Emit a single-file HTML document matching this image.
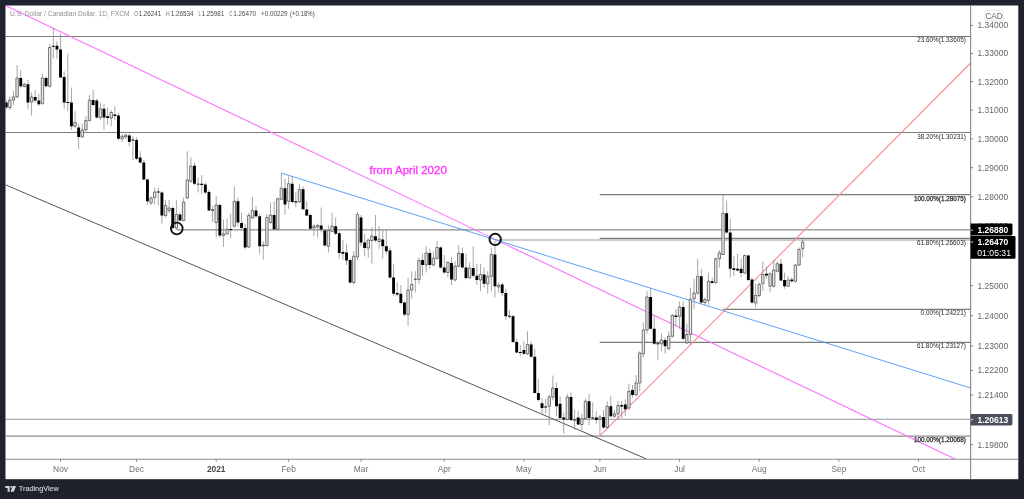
<!DOCTYPE html>
<html><head><meta charset="utf-8"><title>USDCAD</title>
<style>
html,body{margin:0;padding:0;background:#1e222d;}
body{width:1024px;height:499px;overflow:hidden;position:relative;}
svg{position:absolute;left:0;top:0;display:block;will-change:transform}
text{font-family:'Liberation Sans', sans-serif;}
</style></head><body>
<svg width="1024" height="499" viewBox="0 0 1024 499">
<rect x="0" y="0" width="1024" height="499" fill="#1e222d"/>
<rect x="5.5" y="5.5" width="1012.8" height="473.7" fill="#ffffff"/>
<defs><clipPath id="pane"><rect x="5.5" y="5.5" width="965.1" height="453.8"/></clipPath></defs>
<g clip-path="url(#pane)">
<line x1="5.50" y1="36.50" x2="970.60" y2="36.50" stroke="#7c7c7c" stroke-width="1.2"/>
<line x1="5.50" y1="132.50" x2="970.60" y2="132.50" stroke="#7c7c7c" stroke-width="1.2"/>
<line x1="599.70" y1="194.60" x2="970.60" y2="194.60" stroke="#7c7c7c" stroke-width="1.2"/>
<line x1="599.70" y1="238.45" x2="970.60" y2="238.45" stroke="#7c7c7c" stroke-width="1.2"/>
<line x1="722.80" y1="309.30" x2="970.60" y2="309.30" stroke="#7c7c7c" stroke-width="1.2"/>
<line x1="599.70" y1="342.35" x2="970.60" y2="342.35" stroke="#7c7c7c" stroke-width="1.2"/>
<line x1="5.50" y1="436.10" x2="970.60" y2="436.10" stroke="#8a8a8a" stroke-width="1.35"/>
<line x1="177.00" y1="229.80" x2="970.60" y2="229.80" stroke="#8c8c8c" stroke-width="1.2"/>
<line x1="495.00" y1="240.00" x2="970.60" y2="240.00" stroke="#9a9a9a" stroke-width="1.2"/>
<line x1="5.50" y1="419.30" x2="970.60" y2="419.30" stroke="#92949f" stroke-width="1.1"/>
<line x1="5.5" y1="5.5" x2="955.5" y2="459.3" stroke="#ff72ff" stroke-width="1.1"/>
<line x1="281.25" y1="173" x2="970.6" y2="388" stroke="#4a98f5" stroke-width="0.9"/>
<line x1="599.9" y1="435.9" x2="970.6" y2="63" stroke="#f98b8e" stroke-width="1.1"/>
<line x1="5.5" y1="184.8" x2="646.6" y2="459.0" stroke="#4c4c4c" stroke-width="0.95"/>
<path d="M6.25 100.00V108.75M9.87 96.25V110.00M13.49 91.25V105.00M17.11 65.00V97.50M20.73 70.00V87.50M24.35 82.50V87.50M27.97 80.00V108.75M31.59 92.50V115.50M35.21 90.00V102.50M38.83 93.75V106.25M42.45 73.75V104.25M46.07 76.25V87.50M49.69 43.75V87.50M53.31 28.00V58.75M56.93 41.25V58.75M60.55 33.75V78.00M64.17 71.25V108.75M67.79 53.75V111.25M71.41 87.50V130.00M75.03 111.25V127.50M78.65 123.75V149.25M82.27 123.75V137.50M85.89 116.25V131.25M89.51 95.00V121.25M93.13 89.50V106.25M96.75 98.75V118.75M100.37 102.50V120.00M103.99 103.75V130.00M107.61 107.50V125.00M111.23 110.00V126.25M114.85 106.25V120.00M118.47 112.50V140.00M122.09 133.75V142.50M125.71 133.75V138.75M129.33 133.75V146.25M132.95 136.25V160.00M136.57 137.50V160.00M140.19 151.25V163.75M143.81 160.00V180.00M147.43 178.75V205.00M151.05 196.25V205.00M154.67 187.50V204.50M158.29 187.50V205.25M161.91 191.25V223.75M165.53 200.00V217.50M169.15 200.00V213.00M172.77 206.25V229.25M176.39 200.00V230.00M180.01 212.50V221.25M183.63 197.50V221.25M187.25 151.25V198.75M190.87 157.50V182.50M194.49 162.50V185.00M198.11 177.50V192.50M201.73 175.00V193.75M205.35 182.50V193.75M208.97 190.00V211.25M212.59 205.50V222.00M216.21 196.25V237.50M219.83 203.75V237.50M223.45 219.25V247.00M227.07 218.75V235.00M230.69 213.75V238.25M234.31 186.25V227.50M237.93 197.50V226.25M241.55 212.50V230.50M245.17 223.75V248.75M248.79 212.50V248.00M252.41 197.00V218.75M256.03 206.25V218.00M259.65 213.75V253.75M263.27 241.25V259.50M266.89 213.75V247.00M270.51 202.50V223.75M274.13 201.25V230.00M277.75 197.50V230.00M281.37 173.00V200.00M284.99 178.75V215.00M288.61 176.25V208.75M292.23 176.25V203.00M295.85 192.50V207.50M299.47 183.75V203.00M303.09 186.25V210.00M306.71 201.25V216.25M310.33 213.75V230.00M313.95 223.75V236.25M317.57 223.75V237.50M321.19 207.50V232.50M324.81 228.75V246.25M328.43 225.50V252.50M332.05 212.50V232.50M335.67 217.50V235.00M339.29 231.25V258.75M342.91 240.00V260.00M346.53 243.75V265.00M350.15 258.75V283.75M353.77 251.25V284.25M357.39 212.00V260.00M361.01 215.00V246.25M364.63 233.75V256.25M368.25 238.75V257.50M371.87 227.50V263.75M375.49 215.00V242.50M379.11 226.25V248.75M382.73 230.00V258.75M386.35 230.00V253.75M389.97 247.50V278.75M393.59 263.75V296.25M397.21 282.50V296.25M400.83 285.00V304.50M404.45 301.25V316.25M408.07 277.50V326.25M411.69 271.25V298.75M415.31 271.25V292.50M418.93 257.50V283.75M422.55 253.75V276.25M426.17 246.25V272.50M429.79 248.75V268.75M433.41 251.25V266.25M437.03 241.25V260.00M440.65 246.25V268.75M444.27 255.00V273.75M447.89 261.25V277.50M451.51 257.50V285.00M455.13 261.25V281.25M458.75 245.00V267.50M462.37 247.50V268.75M465.99 253.75V279.50M469.61 262.50V278.75M473.23 246.25V277.50M476.85 263.75V285.00M480.47 263.75V291.25M484.09 267.50V287.50M487.71 271.25V293.75M491.33 247.50V291.25M494.95 241.25V297.50M498.57 282.50V292.50M502.19 282.50V296.25M505.81 288.75V320.00M509.43 310.00V318.75M513.05 315.00V343.00M516.67 338.75V353.00M520.29 345.00V356.25M523.91 341.25V355.00M527.53 331.25V355.00M531.15 341.25V357.50M534.77 348.75V393.75M538.39 378.75V401.25M542.01 398.00V413.50M545.63 399.00V413.50M549.25 395.00V425.00M552.87 375.50V400.00M556.49 382.50V416.25M560.11 396.25V418.75M563.73 412.50V433.75M567.35 393.75V420.50M570.97 392.50V421.25M574.59 410.00V430.00M578.21 411.25V425.00M581.83 413.75V430.00M585.45 398.75V420.00M589.07 393.75V425.00M592.69 402.50V420.00M596.31 411.25V423.75M599.93 415.00V435.00M603.55 410.00V428.75M607.17 401.25V428.75M610.79 396.25V417.50M614.41 410.00V417.50M618.03 401.25V420.00M621.65 401.25V418.75M625.27 399.50V416.25M628.89 383.75V410.00M632.51 385.00V397.50M636.13 375.00V396.25M639.75 351.25V391.25M643.37 322.50V357.50M646.99 291.25V333.75M650.61 288.75V330.00M654.23 315.00V345.00M657.85 342.50V360.00M661.47 333.75V351.25M665.09 337.50V353.75M668.71 331.25V350.00M672.33 313.75V337.50M675.95 308.75V326.25M679.57 301.25V328.75M683.19 301.25V340.00M686.81 323.75V343.75M690.43 287.50V345.00M694.05 278.75V308.75M697.67 258.75V295.00M701.29 268.75V303.75M704.91 297.50V305.00M708.53 272.50V305.00M712.15 277.50V283.75M715.77 257.50V283.75M719.39 250.00V267.50M723.01 194.50V255.00M726.63 200.50V233.75M730.25 218.75V277.50M733.87 256.25V276.25M737.49 253.75V271.25M741.11 258.75V277.50M744.73 254.50V273.75M748.35 254.50V281.25M751.97 277.50V303.75M755.59 283.75V307.50M759.21 282.50V297.50M762.83 261.25V291.25M766.45 266.25V278.75M770.07 272.50V292.50M773.69 260.00V287.50M777.31 261.25V272.50M780.93 258.75V281.25M784.55 272.50V288.75M788.17 276.25V287.00M791.79 277.50V282.50M795.41 263.75V282.50M799.03 247.50V266.25M802.65 239.50V257.50" stroke="#8a8a8a" stroke-width="0.75" fill="none"/>
<path d="M8.67 100.00h2.4v7.50h-2.4zM12.29 97.00h2.4v3.00h-2.4zM15.91 78.00h2.4v19.00h-2.4zM23.15 84.25h2.4v2.25h-2.4zM30.39 97.00h2.4v5.00h-2.4zM41.25 78.00h2.4v25.75h-2.4zM48.49 47.50h2.4v38.75h-2.4zM73.83 122.50h2.4v3.75h-2.4zM81.07 130.00h2.4v7.00h-2.4zM84.69 120.50h2.4v9.50h-2.4zM88.31 100.00h2.4v20.50h-2.4zM99.17 108.75h2.4v8.75h-2.4zM110.03 112.50h2.4v5.50h-2.4zM120.89 136.25h2.4v2.50h-2.4zM124.51 135.00h2.4v2.00h-2.4zM149.85 198.00h2.4v5.00h-2.4zM153.47 192.00h2.4v5.50h-2.4zM164.33 205.50h2.4v10.00h-2.4zM167.95 208.00h2.4v2.50h-2.4zM175.19 214.50h2.4v13.50h-2.4zM182.43 202.00h2.4v18.50h-2.4zM186.05 180.00h2.4v18.00h-2.4zM189.67 166.25h2.4v15.00h-2.4zM215.01 205.00h2.4v17.50h-2.4zM222.25 233.75h2.4v1.75h-2.4zM225.87 229.25h2.4v4.50h-2.4zM233.11 201.25h2.4v25.00h-2.4zM247.59 215.50h2.4v31.50h-2.4zM251.21 210.50h2.4v7.50h-2.4zM262.07 245.00h2.4v1.00h-2.4zM265.69 217.50h2.4v28.00h-2.4zM269.31 215.00h2.4v7.50h-2.4zM276.55 198.75h2.4v30.50h-2.4zM280.17 188.25h2.4v11.00h-2.4zM287.41 183.75h2.4v17.50h-2.4zM298.27 189.25h2.4v12.50h-2.4zM312.75 226.25h2.4v1.75h-2.4zM316.37 225.50h2.4v1.50h-2.4zM327.23 230.50h2.4v15.75h-2.4zM330.85 226.25h2.4v5.00h-2.4zM352.57 256.25h2.4v26.25h-2.4zM356.19 214.50h2.4v42.50h-2.4zM367.05 240.00h2.4v8.00h-2.4zM370.67 236.00h2.4v4.50h-2.4zM377.91 239.00h2.4v2.50h-2.4zM406.87 290.00h2.4v24.50h-2.4zM410.49 284.50h2.4v5.50h-2.4zM417.73 260.50h2.4v19.00h-2.4zM424.97 253.00h2.4v12.00h-2.4zM432.21 258.25h2.4v6.75h-2.4zM435.83 247.50h2.4v10.75h-2.4zM446.69 262.50h2.4v10.00h-2.4zM453.93 266.25h2.4v13.75h-2.4zM457.55 253.25h2.4v13.00h-2.4zM468.41 268.00h2.4v10.00h-2.4zM479.27 274.50h2.4v5.50h-2.4zM486.51 276.25h2.4v7.50h-2.4zM490.13 254.50h2.4v21.75h-2.4zM497.37 285.00h2.4v2.00h-2.4zM526.33 344.50h2.4v9.25h-2.4zM548.05 397.00h2.4v9.25h-2.4zM551.67 388.00h2.4v9.00h-2.4zM566.15 397.00h2.4v22.50h-2.4zM573.39 419.50h2.4v1.00h-2.4zM580.63 418.75h2.4v5.75h-2.4zM584.25 401.25h2.4v17.50h-2.4zM598.73 417.00h2.4v2.50h-2.4zM605.97 406.25h2.4v21.25h-2.4zM613.21 413.75h2.4v2.50h-2.4zM616.83 405.50h2.4v8.25h-2.4zM627.69 391.25h2.4v16.75h-2.4zM634.93 383.00h2.4v12.00h-2.4zM638.55 353.00h2.4v30.00h-2.4zM642.17 330.00h2.4v23.75h-2.4zM645.79 297.00h2.4v33.00h-2.4zM660.27 340.00h2.4v3.75h-2.4zM667.51 336.25h2.4v12.50h-2.4zM671.13 315.50h2.4v20.75h-2.4zM678.37 307.00h2.4v9.25h-2.4zM685.61 334.50h2.4v8.50h-2.4zM689.23 299.50h2.4v35.00h-2.4zM692.85 293.00h2.4v5.75h-2.4zM696.47 276.25h2.4v16.75h-2.4zM703.71 299.50h2.4v3.00h-2.4zM707.33 281.25h2.4v19.25h-2.4zM714.57 258.75h2.4v23.75h-2.4zM718.19 253.00h2.4v5.75h-2.4zM721.81 213.25h2.4v41.25h-2.4zM743.53 255.50h2.4v17.50h-2.4zM754.39 295.50h2.4v7.50h-2.4zM758.01 284.50h2.4v11.00h-2.4zM761.63 274.50h2.4v9.25h-2.4zM768.87 273.75h2.4v12.50h-2.4zM772.49 270.00h2.4v16.25h-2.4zM776.11 263.75h2.4v7.50h-2.4zM786.97 280.00h2.4v6.25h-2.4zM794.21 265.00h2.4v16.25h-2.4zM797.83 249.50h2.4v15.50h-2.4zM801.45 242.00h2.4v6.75h-2.4z" stroke="#444" stroke-width="0.7" fill="#e8e8e8"/>
<path d="M4.80 102.50h2.9v5.00h-2.9zM19.28 78.00h2.9v8.25h-2.9zM26.52 84.25h2.9v18.25h-2.9zM33.76 97.00h2.9v3.50h-2.9zM37.38 100.50h2.9v3.75h-2.9zM44.62 78.00h2.9v8.25h-2.9zM51.86 45.75h2.9v1.00h-2.9zM55.48 45.75h2.9v3.75h-2.9zM59.10 49.50h2.9v28.00h-2.9zM62.72 77.00h2.9v25.50h-2.9zM66.34 102.00h2.9v1.00h-2.9zM69.96 102.50h2.9v23.75h-2.9zM77.20 127.50h2.9v9.50h-2.9zM91.68 100.00h2.9v5.00h-2.9zM95.30 100.50h2.9v17.00h-2.9zM102.54 108.75h2.9v8.75h-2.9zM106.16 116.25h2.9v1.75h-2.9zM113.40 114.50h2.9v1.50h-2.9zM117.02 115.50h2.9v23.25h-2.9zM127.88 135.50h2.9v6.50h-2.9zM131.50 139.50h2.9v1.00h-2.9zM135.12 140.00h2.9v18.75h-2.9zM138.74 157.50h2.9v5.00h-2.9zM142.36 162.50h2.9v17.00h-2.9zM145.98 179.50h2.9v21.75h-2.9zM156.84 191.50h2.9v1.00h-2.9zM160.46 192.50h2.9v23.00h-2.9zM171.32 208.00h2.9v20.00h-2.9zM178.56 214.50h2.9v6.00h-2.9zM193.04 165.75h2.9v18.00h-2.9zM196.66 183.75h2.9v0.80h-2.9zM200.28 183.75h2.9v1.25h-2.9zM203.90 184.50h2.9v8.00h-2.9zM207.52 192.00h2.9v18.50h-2.9zM211.14 209.50h2.9v1.00h-2.9zM218.38 205.00h2.9v30.50h-2.9zM229.24 229.00h2.9v1.00h-2.9zM236.48 201.25h2.9v21.25h-2.9zM240.10 223.00h2.9v5.00h-2.9zM243.72 228.00h2.9v19.50h-2.9zM254.58 210.50h2.9v5.75h-2.9zM258.20 216.25h2.9v30.00h-2.9zM272.68 215.00h2.9v14.25h-2.9zM283.54 188.25h2.9v16.25h-2.9zM290.78 183.75h2.9v18.25h-2.9zM294.40 201.25h2.9v1.25h-2.9zM301.64 189.25h2.9v20.00h-2.9zM305.26 209.50h2.9v6.00h-2.9zM308.88 215.00h2.9v13.75h-2.9zM319.74 225.50h2.9v4.00h-2.9zM323.36 230.50h2.9v15.00h-2.9zM334.22 226.25h2.9v7.50h-2.9zM337.84 233.25h2.9v19.75h-2.9zM341.46 252.00h2.9v1.75h-2.9zM345.08 252.50h2.9v8.00h-2.9zM348.70 260.00h2.9v22.50h-2.9zM359.56 217.50h2.9v25.00h-2.9zM363.18 242.50h2.9v5.50h-2.9zM374.04 236.25h2.9v4.25h-2.9zM381.28 239.50h2.9v6.75h-2.9zM384.90 246.25h2.9v5.00h-2.9zM388.52 250.50h2.9v27.00h-2.9zM392.14 277.50h2.9v16.25h-2.9zM395.76 293.00h2.9v1.50h-2.9zM399.38 293.75h2.9v9.25h-2.9zM403.00 302.50h2.9v12.00h-2.9zM413.86 278.75h2.9v0.80h-2.9zM421.10 260.00h2.9v5.00h-2.9zM428.34 253.00h2.9v12.00h-2.9zM439.20 247.50h2.9v20.00h-2.9zM442.82 267.50h2.9v5.00h-2.9zM450.06 263.00h2.9v16.50h-2.9zM460.92 253.25h2.9v14.25h-2.9zM464.54 267.50h2.9v10.50h-2.9zM471.78 268.00h2.9v7.75h-2.9zM475.40 275.75h2.9v4.25h-2.9zM482.64 274.50h2.9v9.25h-2.9zM493.50 254.50h2.9v31.75h-2.9zM500.74 284.50h2.9v8.50h-2.9zM504.36 293.00h2.9v23.25h-2.9zM507.98 315.75h2.9v1.00h-2.9zM511.60 316.25h2.9v25.75h-2.9zM515.22 342.00h2.9v10.50h-2.9zM518.84 352.00h2.9v1.00h-2.9zM522.46 350.00h2.9v3.75h-2.9zM529.70 344.50h2.9v12.25h-2.9zM533.32 356.75h2.9v36.25h-2.9zM536.94 393.00h2.9v7.00h-2.9zM540.56 403.25h2.9v4.75h-2.9zM544.18 406.50h2.9v1.00h-2.9zM555.04 388.00h2.9v18.25h-2.9zM558.66 403.75h2.9v14.25h-2.9zM562.28 417.50h2.9v2.00h-2.9zM569.52 397.00h2.9v23.00h-2.9zM576.76 417.50h2.9v7.00h-2.9zM587.62 401.25h2.9v16.75h-2.9zM591.24 417.50h2.9v1.00h-2.9zM594.86 417.50h2.9v2.50h-2.9zM602.10 417.00h2.9v10.50h-2.9zM609.34 406.25h2.9v10.00h-2.9zM620.20 405.00h2.9v1.50h-2.9zM623.82 404.50h2.9v4.75h-2.9zM631.06 390.00h2.9v5.00h-2.9zM649.16 297.00h2.9v31.75h-2.9zM652.78 328.75h2.9v15.00h-2.9zM656.40 343.25h2.9v1.00h-2.9zM663.64 340.00h2.9v6.25h-2.9zM674.50 315.50h2.9v1.50h-2.9zM681.74 307.00h2.9v31.75h-2.9zM699.84 276.25h2.9v26.25h-2.9zM710.70 281.25h2.9v1.75h-2.9zM725.18 213.25h2.9v19.25h-2.9zM728.80 232.50h2.9v36.25h-2.9zM732.42 268.25h2.9v1.75h-2.9zM736.04 268.75h2.9v1.75h-2.9zM739.66 268.75h2.9v4.25h-2.9zM746.90 255.50h2.9v24.50h-2.9zM750.52 279.50h2.9v23.00h-2.9zM765.00 273.75h2.9v1.75h-2.9zM779.48 263.75h2.9v16.75h-2.9zM783.10 280.00h2.9v6.25h-2.9zM790.34 279.50h2.9v1.75h-2.9z" fill="#000"/>
<circle cx="176.8" cy="228.5" r="5.85" fill="none" stroke="#111" stroke-width="1.9"/>
<circle cx="495.2" cy="239.4" r="5.7" fill="none" stroke="#111" stroke-width="1.9"/>
<text x="369.5" y="173.8" font-size="11" fill="#ff33ff" stroke="#ff33ff" stroke-width="0.3" textLength="77.3" lengthAdjust="spacingAndGlyphs">from April 2020</text>
<text x="917.3" y="42.25" font-size="6.8" fill="#262626" textLength="48.5" lengthAdjust="spacingAndGlyphs">23.60%(1.33605)</text>
<text x="917.3" y="138.95" font-size="6.8" fill="#262626" textLength="48.5" lengthAdjust="spacingAndGlyphs">38.20%(1.30231)</text>
<text stroke="#262626" stroke-width="0.25" x="914.0" y="200.75" font-size="6.8" fill="#262626" textLength="51.8" lengthAdjust="spacingAndGlyphs">100.00%(1.28075)</text>
<text x="917.0" y="244.55" font-size="6.8" fill="#262626" textLength="48.8" lengthAdjust="spacingAndGlyphs">61.80%(1.26603)</text>
<text x="920.6" y="315.45" font-size="6.8" fill="#262626" textLength="45.2" lengthAdjust="spacingAndGlyphs">0.00%(1.24221)</text>
<text x="917.0" y="348.45" font-size="6.8" fill="#262626" textLength="48.8" lengthAdjust="spacingAndGlyphs">61.80%(1.23127)</text>
<text stroke="#262626" stroke-width="0.25" x="914.0" y="441.75" font-size="6.8" fill="#262626" textLength="51.8" lengthAdjust="spacingAndGlyphs">100.00%(1.20068)</text>
</g>
<text x="10.0" y="16.2" font-size="6.8" fill="#909090" textLength="119.6" lengthAdjust="spacingAndGlyphs">U.S. Dollar / Canadian Dollar, 1D, FXCM</text>
<text x="134.3" y="16.2" font-size="6.8" fill="#6c6c6c" textLength="3.7" lengthAdjust="spacingAndGlyphs">O</text>
<text x="138.7" y="16.2" font-size="6.8" fill="#4a4a4a" textLength="22.4" lengthAdjust="spacingAndGlyphs">1.26241</text>
<text x="166.0" y="16.2" font-size="6.8" fill="#6c6c6c" textLength="3.7" lengthAdjust="spacingAndGlyphs">H</text>
<text x="170.7" y="16.2" font-size="6.8" fill="#4a4a4a" textLength="22.9" lengthAdjust="spacingAndGlyphs">1.26534</text>
<text x="198.4" y="16.2" font-size="6.8" fill="#6c6c6c" textLength="2.4" lengthAdjust="spacingAndGlyphs">L</text>
<text x="201.7" y="16.2" font-size="6.8" fill="#4a4a4a" textLength="22.4" lengthAdjust="spacingAndGlyphs">1.25981</text>
<text x="229.3" y="16.2" font-size="6.8" fill="#6c6c6c" textLength="3.2" lengthAdjust="spacingAndGlyphs">C</text>
<text x="233.2" y="16.2" font-size="6.8" fill="#4a4a4a" textLength="22.9" lengthAdjust="spacingAndGlyphs">1.26470</text>
<text x="261.0" y="16.2" font-size="6.8" fill="#4a4a4a" textLength="26.4" lengthAdjust="spacingAndGlyphs">+0.00229</text>
<text x="290.1" y="16.2" font-size="6.8" fill="#4a4a4a" textLength="24.6" lengthAdjust="spacingAndGlyphs">(+0.18%)</text>
<line x1="970.6" y1="5.5" x2="970.6" y2="479.2" stroke="#858585" stroke-width="1.1"/>
<line x1="5.5" y1="459.3" x2="1018.3" y2="459.3" stroke="#8a8a8a" stroke-width="1.1"/>
<line x1="970.6" y1="25.36" x2="973.2" y2="25.36" stroke="#6a6a6a" stroke-width="0.8"/>
<text x="977.5" y="28.36" font-size="8.4" fill="#666" textLength="30.6" lengthAdjust="spacingAndGlyphs">1.34000</text>
<line x1="970.6" y1="53.40" x2="973.2" y2="53.40" stroke="#6a6a6a" stroke-width="0.8"/>
<text x="977.5" y="56.40" font-size="8.4" fill="#666" textLength="30.6" lengthAdjust="spacingAndGlyphs">1.33000</text>
<line x1="970.6" y1="81.65" x2="973.2" y2="81.65" stroke="#6a6a6a" stroke-width="0.8"/>
<text x="977.5" y="84.65" font-size="8.4" fill="#666" textLength="30.6" lengthAdjust="spacingAndGlyphs">1.32000</text>
<line x1="970.6" y1="110.12" x2="973.2" y2="110.12" stroke="#6a6a6a" stroke-width="0.8"/>
<text x="977.5" y="113.12" font-size="8.4" fill="#666" textLength="30.6" lengthAdjust="spacingAndGlyphs">1.31000</text>
<line x1="970.6" y1="138.81" x2="973.2" y2="138.81" stroke="#6a6a6a" stroke-width="0.8"/>
<text x="977.5" y="141.81" font-size="8.4" fill="#666" textLength="30.6" lengthAdjust="spacingAndGlyphs">1.30000</text>
<line x1="970.6" y1="167.71" x2="973.2" y2="167.71" stroke="#6a6a6a" stroke-width="0.8"/>
<text x="977.5" y="170.71" font-size="8.4" fill="#666" textLength="30.6" lengthAdjust="spacingAndGlyphs">1.29000</text>
<line x1="970.6" y1="196.84" x2="973.2" y2="196.84" stroke="#6a6a6a" stroke-width="0.8"/>
<text x="977.5" y="199.84" font-size="8.4" fill="#666" textLength="30.6" lengthAdjust="spacingAndGlyphs">1.28000</text>
<line x1="970.6" y1="226.20" x2="973.2" y2="226.20" stroke="#6a6a6a" stroke-width="0.8"/>
<text x="977.5" y="229.20" font-size="8.4" fill="#666" textLength="30.6" lengthAdjust="spacingAndGlyphs">1.27000</text>
<line x1="970.6" y1="285.62" x2="973.2" y2="285.62" stroke="#6a6a6a" stroke-width="0.8"/>
<text x="977.5" y="288.62" font-size="8.4" fill="#666" textLength="30.6" lengthAdjust="spacingAndGlyphs">1.25000</text>
<line x1="970.6" y1="315.69" x2="973.2" y2="315.69" stroke="#6a6a6a" stroke-width="0.8"/>
<text x="977.5" y="318.69" font-size="8.4" fill="#666" textLength="30.6" lengthAdjust="spacingAndGlyphs">1.24000</text>
<line x1="970.6" y1="346.00" x2="973.2" y2="346.00" stroke="#6a6a6a" stroke-width="0.8"/>
<text x="977.5" y="349.00" font-size="8.4" fill="#666" textLength="30.6" lengthAdjust="spacingAndGlyphs">1.23000</text>
<line x1="970.6" y1="370.43" x2="973.2" y2="370.43" stroke="#6a6a6a" stroke-width="0.8"/>
<text x="977.5" y="373.43" font-size="8.4" fill="#666" textLength="30.6" lengthAdjust="spacingAndGlyphs">1.22200</text>
<line x1="970.6" y1="395.02" x2="973.2" y2="395.02" stroke="#6a6a6a" stroke-width="0.8"/>
<text x="977.5" y="398.02" font-size="8.4" fill="#666" textLength="30.6" lengthAdjust="spacingAndGlyphs">1.21400</text>
<line x1="970.6" y1="444.68" x2="973.2" y2="444.68" stroke="#6a6a6a" stroke-width="0.8"/>
<text x="977.5" y="447.68" font-size="8.4" fill="#666" textLength="30.6" lengthAdjust="spacingAndGlyphs">1.19800</text>
<path d="M970.6 223.5H1011.1Q1012.5 223.5 1012.5 224.9V234.0Q1012.5 235.4 1011.1 235.4H970.6Z" fill="#000"/>
<path d="M970.6 236.1H1014.1Q1015.5 236.1 1015.5 237.5V257.40000000000003Q1015.5 258.8 1014.1 258.8H970.6Z" fill="#000"/>
<path d="M970.6 413.9H1011.0Q1012.4 413.9 1012.4 415.29999999999995V424.1Q1012.4 425.5 1011.0 425.5H970.6Z" fill="#4c4f5b"/>
<line x1="970.6" y1="230.20" x2="973.2" y2="230.20" stroke="#fff" stroke-width="0.8"/>
<text x="977.5" y="233.20" font-size="8.4" fill="#fff" font-weight="bold" textLength="30.8" lengthAdjust="spacingAndGlyphs">1.26880</text>
<line x1="970.6" y1="242.00" x2="973.2" y2="242.00" stroke="#fff" stroke-width="0.8"/>
<text x="977.5" y="245.00" font-size="8.4" fill="#fff" font-weight="bold" textLength="30.8" lengthAdjust="spacingAndGlyphs">1.26470</text>
<line x1="970.6" y1="419.70" x2="973.2" y2="419.70" stroke="#fff" stroke-width="0.8"/>
<text x="977.5" y="422.70" font-size="8.4" fill="#fff" font-weight="bold" textLength="30.8" lengthAdjust="spacingAndGlyphs">1.20613</text>
<text x="977.3" y="256.0" font-size="8.4" fill="#fff" textLength="33.7" lengthAdjust="spacingAndGlyphs">01:05:31</text>
<rect x="985.2" y="10.6" width="17.8" height="9.9" rx="1.5" fill="#fff" stroke="#d5d5d5" stroke-width="0.6"/>
<text x="994.1" y="18.6" font-size="8.2" fill="#666" text-anchor="middle">CAD</text>
<line x1="60.55" y1="459.3" x2="60.55" y2="461.7" stroke="#6a6a6a" stroke-width="0.8"/>
<text x="60.55" y="472.3" font-size="8.4" fill="#707070" text-anchor="middle">Nov</text>
<line x1="136.57" y1="459.3" x2="136.57" y2="461.7" stroke="#6a6a6a" stroke-width="0.8"/>
<text x="136.57" y="472.3" font-size="8.4" fill="#707070" text-anchor="middle">Dec</text>
<line x1="216.21" y1="459.3" x2="216.21" y2="461.7" stroke="#6a6a6a" stroke-width="0.8"/>
<text x="216.21" y="472.3" font-size="8.4" fill="#484848" text-anchor="middle" font-weight="bold">2021</text>
<line x1="288.61" y1="459.3" x2="288.61" y2="461.7" stroke="#6a6a6a" stroke-width="0.8"/>
<text x="288.61" y="472.3" font-size="8.4" fill="#707070" text-anchor="middle">Feb</text>
<line x1="361.01" y1="459.3" x2="361.01" y2="461.7" stroke="#6a6a6a" stroke-width="0.8"/>
<text x="361.01" y="472.3" font-size="8.4" fill="#707070" text-anchor="middle">Mar</text>
<line x1="444.27" y1="459.3" x2="444.27" y2="461.7" stroke="#6a6a6a" stroke-width="0.8"/>
<text x="444.27" y="472.3" font-size="8.4" fill="#707070" text-anchor="middle">Apr</text>
<line x1="523.91" y1="459.3" x2="523.91" y2="461.7" stroke="#6a6a6a" stroke-width="0.8"/>
<text x="523.91" y="472.3" font-size="8.4" fill="#707070" text-anchor="middle">May</text>
<line x1="599.93" y1="459.3" x2="599.93" y2="461.7" stroke="#6a6a6a" stroke-width="0.8"/>
<text x="599.93" y="472.3" font-size="8.4" fill="#707070" text-anchor="middle">Jun</text>
<line x1="679.57" y1="459.3" x2="679.57" y2="461.7" stroke="#6a6a6a" stroke-width="0.8"/>
<text x="679.57" y="472.3" font-size="8.4" fill="#707070" text-anchor="middle">Jul</text>
<line x1="759.21" y1="459.3" x2="759.21" y2="461.7" stroke="#6a6a6a" stroke-width="0.8"/>
<text x="759.21" y="472.3" font-size="8.4" fill="#707070" text-anchor="middle">Aug</text>
<line x1="838.85" y1="459.3" x2="838.85" y2="461.7" stroke="#6a6a6a" stroke-width="0.8"/>
<text x="838.85" y="472.3" font-size="8.4" fill="#707070" text-anchor="middle">Sep</text>
<line x1="918.49" y1="459.3" x2="918.49" y2="461.7" stroke="#6a6a6a" stroke-width="0.8"/>
<text x="918.49" y="472.3" font-size="8.4" fill="#707070" text-anchor="middle">Oct</text>
<g fill="#d1d4dc"><path d="M5.3 485.9H9.7V491.7H7.6V488.0H5.3Z"/><circle cx="11.4" cy="487.0" r="1.0"/><path d="M12.7 485.9H16.1L13.7 491.7H10.5Z"/></g>
<text x="18.8" y="491.2" font-size="7.6" fill="#d1d4dc" stroke="#d1d4dc" stroke-width="0.12" textLength="40" lengthAdjust="spacingAndGlyphs">TradingView</text>
</svg></body></html>
